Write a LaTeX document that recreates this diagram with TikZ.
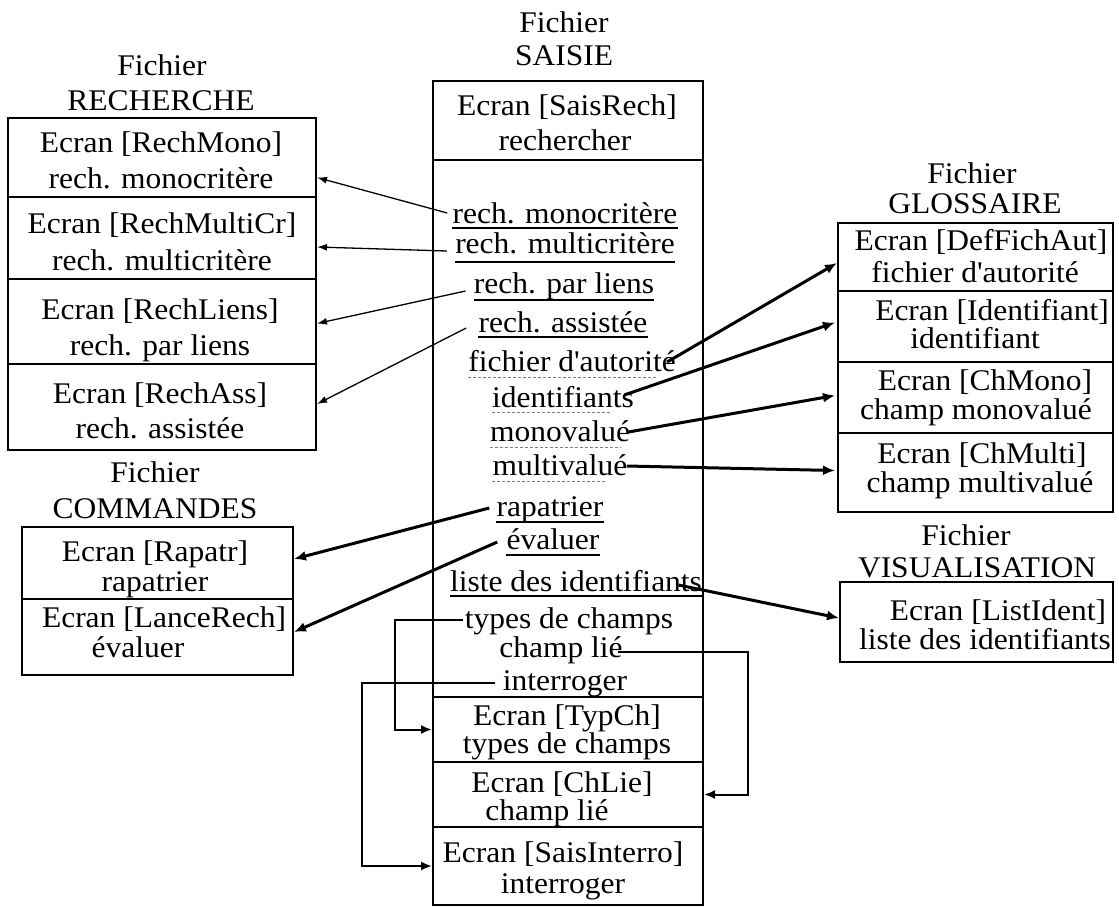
\documentclass[tikz,border=0pt]{standalone}
\usepackage{fontspec}
\setmainfont{Liberation Serif}[FakeStretch=1.05]
\usetikzlibrary{arrows.meta,fit}

\begin{document}
\begin{tikzpicture}[x=0.5pt,y=-0.5pt,
  sect/.style={draw, line width=1pt, inner sep=0pt},
  txt/.style={anchor=base, inner sep=0pt, font=\fontsize{15}{18}\selectfont},
  uline/.style={line width=0.7pt},
  dline/.style={line width=0.5pt, gray, dash pattern=on 1.5pt off 1pt},
  thinarrow/.style={line width=0.65pt, -{Latex[length=5pt,width=3.5pt]}},
  thickarrow/.style={line width=1.5pt, -{Latex[length=6pt,width=5pt]}},
  elbow/.style={line width=1pt, -{Latex[length=5.5pt,width=4.5pt]}},
]
\useasboundingbox (0,0) rectangle (1119,907);

% ---------- Fichier RECHERCHE ----------
\node[txt] (hr1) at (162,75) {Fichier};
\node[txt] (hr2) at (161,110) {RECHERCHE};
\node[sect, fit={(8,118) (316,197)}] (rmono) {};
\node[sect, fit={(8,197) (316,279)}] (rmulti) {};
\node[sect, fit={(8,279) (316,364)}] (rliens) {};
\node[sect, fit={(8,364) (316,450)}] (rass) {};
\node[txt] (r1) at (161,152) {Ecran [RechMono]};
\node[txt] (r2) at (161,188) {rech. monocritère};
\node[txt] (r3) at (162,233) {Ecran [RechMultiCr]};
\node[txt] (r4) at (162,270) {rech. multicritère};
\node[txt] (r5) at (160,319) {Ecran [RechLiens]};
\node[txt] (r6) at (160,355) {rech. par liens};
\node[txt] (r7) at (160,403) {Ecran [RechAss]};
\node[txt] (r8) at (160,438) {rech. assistée};

% ---------- Fichier COMMANDES ----------
\node[txt] (hc1) at (155,482) {Fichier};
\node[txt] (hc2) at (155,518) {COMMANDES};
\node[sect, fit={(22,527) (293,599)}] (crap) {};
\node[sect, fit={(22,599) (293,675)}] (clance) {};
\node[txt] (c1) at (155,561) {Ecran [Rapatr]};
\node[txt] (c2) at (155,591) {rapatrier};
\node[txt] (c3) at (164,627) {Ecran [LanceRech]};
\node[txt] (c4) at (138,657) {évaluer};

% ---------- Fichier SAISIE ----------
\node[txt] (hs1) at (564,32) {Fichier};
\node[txt] (hs2) at (564,65) {SAISIE};
\node[sect, fit={(433,81) (703,160)}] (srech) {};
\node[sect, fit={(433,160) (703,697)}] (sbody) {};
\node[sect, fit={(433,697) (703,762)}] (styp) {};
\node[sect, fit={(433,762) (703,827)}] (slie) {};
\node[sect, fit={(433,827) (703,905)}] (sint) {};
\node[txt] (s1) at (567,115) {Ecran [SaisRech]};
\node[txt] (s2) at (565,150) {rechercher};
\node[txt] (s3) at (565,223) {rech. monocritère};
\node[txt] (s4) at (565,253) {rech. multicritère};
\node[txt] (s5) at (564,293) {rech. par liens};
\node[txt] (s6) at (563,332) {rech. assistée};
\node[txt] (s7) at (572,371) {fichier d\textquotesingle autorité};
\node[txt] (s8) at (563,407) {identifiants};
\node[txt] (s9) at (560,441) {monovalué};
\node[txt] (s10) at (560,475) {multivalué};
\node[txt] (s11) at (550,516) {rapatrier};
\node[txt] (s12) at (553,549) {évaluer};
\node[txt] (s13) at (576,591) {liste des identifiants};
\node[txt] (s14) at (569,628) {types de champs};
\node[txt] (s15) at (561,657) {champ lié};
\node[txt] (s16) at (565,690) {interroger};
\node[txt] (s17) at (567,725) {Ecran [TypCh]};
\node[txt] (s18) at (567,753) {types de champs};
\node[txt] (s19) at (562,792) {Ecran [ChLie]};
\node[txt] (s20) at (547,820) {champ lié};
\node[txt] (s21) at (563,862) {Ecran [SaisInterro]};
\node[txt] (s22) at (563,893) {interroger};

% underlines of the menu entries
\draw[uline] (s3.west |- 0,228) -- (s3.east |- 0,228);
\draw[uline] (s4.west |- 0,262) -- (s4.east |- 0,262);
\draw[uline] (s5.west |- 0,300) -- (s5.east |- 0,300);
\draw[uline] (s6.west |- 0,337) -- (s6.east |- 0,337);
\draw[dline] (s7.west |- 0,377) -- ([xshift=-10pt]s7.east |- 0,377);
\draw[dline] (s8.west |- 0,412) -- ([xshift=-12pt]s8.east |- 0,412);
\draw[dline] (s9.west |- 0,447) -- ([xshift=-5pt]s9.east |- 0,447);
\draw[dline] (s10.west |- 0,481) -- ([xshift=-11pt]s10.east |- 0,481);
\draw[uline] (s11.west |- 0,522) -- (s11.east |- 0,522);
\draw[uline] (s12.west |- 0,555) -- (s12.east |- 0,555);
\draw[uline] (s13.west |- 0,596) -- (s13.east |- 0,596);

% ---------- Fichier GLOSSAIRE ----------
\node[txt] (hg1) at (972,183) {Fichier};
\node[txt] (hg2) at (975,213) {GLOSSAIRE};
\node[sect, fit={(838,223) (1113,291)}] (gdef) {};
\node[sect, fit={(838,291) (1113,362)}] (gid) {};
\node[sect, fit={(838,362) (1113,433)}] (gmono) {};
\node[sect, fit={(838,433) (1113,512)}] (gmulti) {};
\node[txt] (g1) at (981,250) {Ecran [DefFichAut]};
\node[txt] (g2) at (975,282) {fichier d\textquotesingle autorité};
\node[txt] (g3) at (992,320) {Ecran [Identifiant]};
\node[txt] (g4) at (975,348) {identifiant};
\node[txt] (g5) at (985,390) {Ecran [ChMono]};
\node[txt] (g6) at (976,419) {champ monovalué};
\node[txt] (g7) at (982,463) {Ecran [ChMulti]};
\node[txt] (g8) at (980,492) {champ multivalué};

% ---------- Fichier VISUALISATION ----------
\node[txt] (hv1) at (966,545) {Fichier};
\node[txt] (hv2) at (977,577) {VISUALISATION};
\node[sect, fit={(840,582) (1113,662)}] (vlist) {};
\node[txt] (v1) at (998,620) {Ecran [ListIdent]};
\node[txt] (v2) at (985,649) {liste des identifiants};

% ---------- connectors ----------
\draw[thinarrow] ([shift={(-5,-10)}]s3.base west) -- ([shift={(0,20)}]rmono.east);
\draw[thinarrow] ([shift={(-8,-2)}]s4.base west) -- ([shift={(0,9)}]rmulti.east);
\draw[thinarrow] ([shift={(-8,-2)}]s5.base west) -- ([shift={(0,2)}]rliens.east);
\draw[thinarrow] ([shift={(-12,-4)}]s6.base west) -- ([shift={(0,-3)}]rass.east);

\draw[thickarrow] ([shift={(-7,-8)}]s11.base west) -- ([shift={(0,-4)}]crap.east);
\draw[thickarrow] ([shift={(-9,-7)}]s12.base west) -- ([shift={(0,-5)}]clance.east);

\draw[thickarrow] ([shift={(-9,-9)}]s7.base east) -- ([shift={(0,6)}]gdef.west);
\draw[thickarrow] ([shift={(-10,-12)}]s8.base east) -- ([shift={(-2,-4)}]gid.west);
\draw[thickarrow] ([shift={(-2,-9)}]s9.base east) -- ([shift={(-2,-2)}]gmono.west);
\draw[thickarrow] ([shift={(-1,-9)}]s10.base east) -- ([shift={(-2,-2)}]gmulti.west);
\draw[thickarrow] ([shift={(-24,-6)}]s13.base east) -- ([shift={(0,-4)}]vlist.west);

\draw[elbow] ([shift={(-2,-8)}]s14.base west) -- ++(-68,0) |- (styp.west);
\draw[elbow] ([shift={(-5,-5)}]s15.base east) -- ++(130,0) |- (slie.east);
\draw[elbow] ([shift={(-8,-7)}]s16.base west) -- ++(-133,0) |- (sint.west);
\end{tikzpicture}
\end{document}
